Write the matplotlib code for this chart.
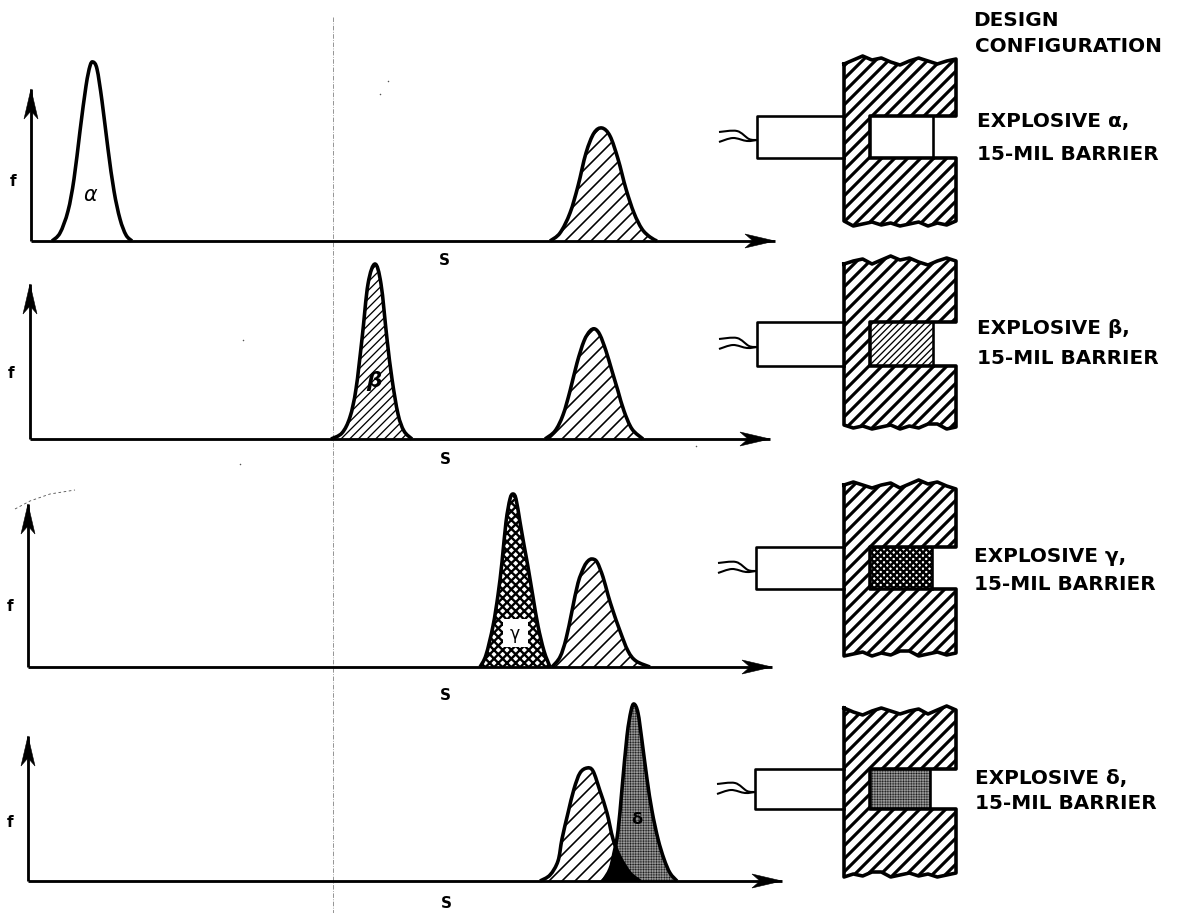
import numpy as np
import matplotlib as mpl
mpl.use("Agg")
import matplotlib.pyplot as plt
from matplotlib.patches import Polygon, Rectangle, PathPatch
from matplotlib.path import Path

# ---- curve data: position along S and frequency height ----
alpha_s = [52, 60, 68, 74, 80, 86, 90, 93, 97, 102, 108, 114, 120, 126, 132]
alpha_f = [0, 8, 30, 62, 110, 155, 175, 179, 172, 140, 92, 50, 22, 6, 0]
ref1_s = [550, 560, 570, 578, 586, 594, 602, 610, 618, 626, 634, 642, 650, 657]
ref1_f = [0, 8, 28, 55, 88, 108, 113, 105, 82, 52, 28, 12, 4, 0]

beta_s = [331, 342, 350, 356, 362, 368, 375, 381, 387, 392, 398, 404, 412]
beta_f = [0, 6, 22, 50, 100, 155, 175, 155, 100, 60, 25, 8, 0]
ref2_s = [545, 555, 563, 570, 577, 584, 590, 595, 600, 606, 612, 618, 624, 632, 643]
ref2_f = [0, 8, 24, 48, 76, 98, 108, 110, 104, 88, 68, 48, 28, 10, 0]

gamma_s = [480, 486, 493, 498, 502, 506, 510, 513, 516, 520, 524, 528, 533, 538, 544, 550]
gamma_f = [0, 12, 41, 72, 105, 145, 168, 173, 168, 145, 122, 100, 70, 41, 16, 0]
ref3_s = [552, 560, 566, 572, 578, 584, 588, 592, 597, 603, 608, 613, 620, 628, 636, 650]
ref3_f = [0, 10, 28, 56, 84, 100, 106, 108, 105, 90, 72, 56, 36, 16, 6, 0]

delta_s = [603, 610, 614, 618, 622, 627, 631, 634, 638, 642, 647, 652, 658, 664, 670, 677]
delta_f = [0, 12, 28, 50, 92, 145, 170, 177, 168, 140, 102, 70, 42, 22, 8, 0]
ref4_s = [540, 550, 558, 562, 568, 574, 580, 587, 593, 600, 607, 613, 620, 630, 640]
ref4_f = [0, 6, 20, 42, 68, 92, 108, 113, 110, 90, 68, 42, 24, 8, 0]

# ---- labels ----
f_label = "f"
s_label = "S"
header = ["DESIGN", "CONFIGURATION"]
explosive_labels = ["EXPLOSIVE α,", "EXPLOSIVE β,", "EXPLOSIVE γ,", "EXPLOSIVE δ,"]
barrier_label = "15-MIL BARRIER"

# ---- layout: figure drawn on a pixel-scaled canvas ----
W, H = 1184, 914
DPI = 78
baselines = [242, 440, 668, 882]
axis_x = [31, 30, 28, 28]
axis_top = [90, 285, 505, 737]
axis_right = [775, 770, 772, 782]
f_pos = [(13, 182), (11, 374), (10, 607), (10, 823)]
s_pos = [(444, 261), (445, 460), (445, 696), (446, 904)]
label_pos = [((977, 122), (977, 155)), ((977, 329), (977, 359)),
             ((974, 557), (974, 585)), ((975, 779), (975, 804))]

wall_top = [63, 263, 487, 713]
wall_bottom = [222, 425, 652, 873]
arm_top = [117, 323, 548, 770]
arm_bottom = [159, 367, 590, 810]
box_left = [757, 757, 756, 755]
cavity_right = [933, 933, 932, 930]
wavy_top = [2, -2, -6, -2, -4, 0, 3, -1, -4, -1, 2, -1, -3]
wavy_bot = [0, 4, 2, 5, 1, 3, 5, 2, 4, 1, 3, 5, 0]

fig = plt.figure(figsize=(W / DPI, H / DPI), dpi=DPI)
ax = fig.add_axes([0, 0, 1, 1])
ax.set_xlim(0, W)
ax.set_ylim(H, 0)
ax.axis("off")


def smooth_path(pts, closed=False):
    """Catmull-Rom path through the given points."""
    p = np.asarray(pts, float)
    verts = [p[0]]
    codes = [Path.MOVETO]
    n = len(p)
    for i in range(n - 1):
        a = p[max(i - 1, 0)]
        b = p[i]
        c = p[i + 1]
        d = p[min(i + 2, n - 1)]
        verts += [b + (c - a) / 6, c - (d - b) / 6, c]
        codes += [Path.CURVE4] * 3
    if closed:
        verts.append(p[0])
        codes.append(Path.CLOSEPOLY)
    return Path(np.array(verts), codes)


class HatchPatch(PathPatch):
    """Path patch with its own hatch line width."""
    def __init__(self, path, hatch_lw=1.0, **k):
        super().__init__(path, **k)
        self._hatch_linewidth = hatch_lw
        self._hlw = hatch_lw

    def draw(self, renderer):
        with mpl.rc_context({"hatch.linewidth": self._hlw}):
            super().draw(renderer)


def hatched(path, hatch, hlw, hc="black", fc="white", z=2):
    ax.add_patch(HatchPatch(path, hatch_lw=hlw, facecolor=fc, edgecolor=hc,
                            hatch=hatch, linewidth=0, zorder=z))


def curve(s, f, base, hatch, hlw, hc="black", fc="white", z=2):
    pts = np.column_stack([s, base - np.array(f, float)])
    hatched(smooth_path(pts, closed=True), hatch, hlw, hc, fc, z)
    ax.add_patch(PathPatch(smooth_path(pts), facecolor="none", edgecolor="black",
                           lw=3.3, zorder=z + 1, joinstyle="round"))


def arrow(x0, y0, x1, y1):
    ax.plot([x0, x1], [y0, y1], color="black", lw=2.6, zorder=5, solid_capstyle="butt")
    dx, dy = np.sign(x1 - x0), np.sign(y1 - y0)
    nx, ny = -dy, dx
    head = [(x1, y1),
            (x1 - dx * 30 + nx * 7, y1 - dy * 30 + ny * 7),
            (x1 - dx * 22, y1 - dy * 22),
            (x1 - dx * 30 - nx * 7, y1 - dy * 30 - ny * 7)]
    ax.add_patch(Polygon(head, closed=True, facecolor="black", edgecolor="black", lw=0.5, zorder=6))


# dash-dot reference line
ax.plot([333, 333], [18, H], color="#777777", lw=0.7, ls=(0, (6, 2, 1, 2)), zorder=1)

# curves
for i, (s, f) in enumerate([(ref1_s, ref1_f), (ref2_s, ref2_f), (ref3_s, ref3_f), (ref4_s, ref4_f)]):
    curve(s, f, baselines[i], "//", 1.5)
curve(alpha_s, alpha_f, baselines[0], None, 1.0)
curve(beta_s, beta_f, baselines[1], "///", 1.2)
curve(gamma_s, gamma_f, baselines[2], "xxx", 2.2)
curve(delta_s, delta_f, baselines[3], "++++++++", 0.5, hc="#999999", fc="#111111")

# overlap of the last two curves
grid = np.arange(delta_s[0], ref4_s[-1] + 1)
low = np.minimum(np.interp(grid, ref4_s, ref4_f), np.interp(grid, delta_s, delta_f))
ax.fill_between(grid, baselines[3] - low, baselines[3], color="black", zorder=4, lw=0)

# labels inside the curves
ax.text(90, 195, "α", fontsize=19, ha="center", va="center", style="italic", zorder=6)
ax.text(374, 381, "β", fontsize=20, ha="center", va="center", style="italic", fontweight="bold", zorder=6)
ax.add_patch(Rectangle((503, 620), 25, 28, facecolor="white", edgecolor="none", zorder=5))
ax.text(515, 634, "γ", fontsize=16, ha="center", va="center", zorder=6)
ax.text(637, 820, "δ", fontsize=15, ha="center", va="center", color="black", fontweight="bold", zorder=6)

# axes and labels
for i in range(4):
    arrow(axis_x[i], baselines[i], axis_right[i], baselines[i])
    arrow(axis_x[i], baselines[i], axis_x[i], axis_top[i])
    ax.text(*f_pos[i], f_label, fontsize=14, fontweight="bold", ha="center", va="center")
    ax.text(*s_pos[i], s_label, fontsize=14, fontweight="bold", ha="center", va="center")

# design configuration sketches
for i in range(4):
    L, R, CL = 844, 956, 870
    xs = np.linspace(L, R, len(wavy_top))
    top = np.column_stack([xs, wall_top[i] + np.roll(wavy_top, i * 3)])
    bot = np.column_stack([xs[::-1], wall_bottom[i] + np.roll(wavy_bot, i * 3)])
    pts = np.vstack([top, [[R, arm_top[i]], [CL, arm_top[i]], [CL, arm_bottom[i]], [R, arm_bottom[i]]], bot])
    poly = Path(np.vstack([pts, pts[:1]]), closed=True)
    cr = cavity_right[i]
    cav = Path([[CL, arm_top[i]], [cr, arm_top[i]], [cr, arm_bottom[i]], [CL, arm_bottom[i]], [CL, arm_top[i]]],
               closed=True)
    if i == 1:
        hatched(cav, "////", 1.2)
    elif i == 2:
        hatched(cav, "xxxx", 2.2)
    elif i == 3:
        hatched(cav, "++++++++", 0.5, hc="#999999", fc="#111111")
    hatched(poly, "//", 2.9, z=3)
    closed = np.vstack([pts, pts[:1]])
    ax.plot(closed[:, 0], closed[:, 1], color="black", lw=3.3, zorder=4, solid_joinstyle="round")
    ax.plot([cr, cr], [arm_top[i], arm_bottom[i]], color="black", lw=2.4, zorder=4)
    # detector box
    bl = box_left[i]
    ax.plot([L, bl, bl, L], [arm_top[i], arm_top[i], arm_bottom[i], arm_bottom[i]],
            color="black", lw=2.4, zorder=4)
    # wires
    c = (arm_top[i] + arm_bottom[i]) / 2
    ax.add_patch(PathPatch(smooth_path(np.column_stack([[bl, bl - 8, bl - 20, bl - 38], [c + 3, c + 2, c - 6, c - 5]])),
                           fc="none", ec="black", lw=1.9, zorder=4))
    ax.add_patch(PathPatch(smooth_path(np.column_stack([[bl, bl - 10, bl - 24, bl - 38], [c + 3, c + 4, c + 1, c + 5]])),
                           fc="none", ec="black", lw=1.9, zorder=4))
    # text
    (x1, y1), (x2, y2) = label_pos[i]
    ax.text(x1, y1, explosive_labels[i], fontsize=18.5, fontweight="bold", ha="left", va="center")
    ax.text(x2, y2, barrier_label, fontsize=18.5, fontweight="bold", ha="left", va="center")

ax.text(973, 20, header[0], fontsize=18.5, ha="left", va="center", fontweight="bold")
ax.text(975, 47, header[1], fontsize=18.5, ha="left", va="center", fontweight="bold")

# specks of the scanned page
ax.plot([15, 30, 50, 75], [510, 502, 495, 491], color="#555555", lw=0.8, ls=(0, (3, 3)))
speck_x = [388, 243, 240, 696, 380]
speck_y = [82, 341, 465, 447, 95]
ax.scatter(speck_x, speck_y, s=2, color="#555555", lw=0)

fig.savefig("out.png", dpi=DPI)
